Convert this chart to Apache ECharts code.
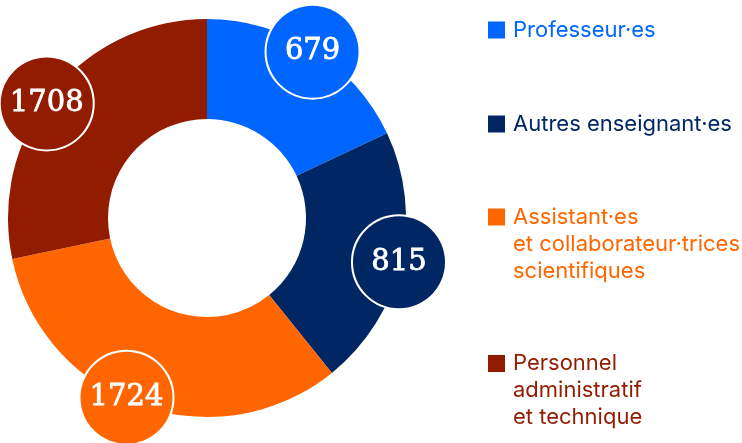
<!DOCTYPE html>
<html>
<head>
<meta charset="utf-8">
<script src="https://cdn.jsdelivr.net/npm/echarts@6/dist/echarts.min.js"></script>
<style>
html,body{margin:0;padding:0;background:#fff;}
#chart{width:742px;height:443px;}
</style>
</head>
<body>
<div id="chart"></div>
<script>
// ---- data ----
const categories = [
  'Professeur·es',
  'Autres enseignant·es',
  'Assistant·es\net collaborateur·trices\nscientifiques',
  'Personnel\nadministratif\net technique'
];
const headcounts = [679, 815, 1724, 1708];          // numbers shown in the bubbles
const sliceShares = [18.0, 21.2, 32.5, 28.3];       // share of the ring (%)
const colors = ['#0066FF', '#002663', '#FF6600', '#921C00'];

// ---- layout ----
const CX = 207, CY = 218, R0 = 99, R1 = 199;
const BUBBLE_R = 197;
const bubbleAngleNudge = [0, 0, 4.5, -3.5];         // degrees, small offsets from slice mid-angles
const LEGEND_X = 488, LINE_H = 27;
const legendCenters = [30, 124, 217, 363.5];

const chart = echarts.init(document.getElementById('chart'), null, {renderer: 'canvas'});

const total = sliceShares.reduce((a, b) => a + b, 0);
const midAngles = [];
let acc = 0;
sliceShares.forEach((s, i) => {
  midAngles.push((acc + s / 2) / total * 360 + bubbleAngleNudge[i]);
  acc += s;
});

const ringData = categories.map((c, i) => ({
  name: c, value: sliceShares[i], itemStyle: {color: colors[i]}
}));
const bubbleData = categories.map((c, i) => ({
  name: c, value: sliceShares[i],
  itemStyle: {color: 'rgba(0,0,0,0)'},
  label: {backgroundColor: colors[i]}
}));

const legends = categories.map((c, i) => {
  const n = c.split('\n').length;
  const lines = 2 * n - 1;
  return {
    orient: 'vertical',
    left: LEGEND_X,
    top: legendCenters[i] - lines * LINE_H / 2,
    padding: 0,
    itemWidth: 17,
    itemHeight: 17,
    icon: 'rect',
    selectedMode: false,
    data: [{name: c, itemStyle: {color: colors[i]}, textStyle: {color: colors[i]}}],
    formatter: name => '\n'.repeat(n - 1) + name,
    textStyle: {
      fontFamily: 'Inter', fontSize: 22, lineHeight: LINE_H,
      color: colors[i], padding: [0, 0, 0, 3]
    }
  };
});

chart.setOption({
  animation: false,
  legend: legends,
  series: [
    {
      type: 'pie',
      center: [CX, CY],
      radius: [R0, R1],
      startAngle: 90,
      clockwise: true,
      silent: true,
      label: {show: false},
      labelLine: {show: false},
      data: ringData
    },
    {
      type: 'pie',
      center: [CX, CY],
      radius: [BUBBLE_R, BUBBLE_R],
      startAngle: 90,
      clockwise: true,
      silent: true,
      labelLine: {show: false},
      label: {
        show: true,
        position: 'inside',
        formatter: p => String(headcounts[p.dataIndex]),
        fontFamily: 'DejaVu Serif',
        fontSize: 29,
        color: '#fff',
        textBorderColor: '#fff',
        textBorderWidth: 0.8,
        width: 92,
        height: 92,
        lineHeight: 92,
        align: 'center',
        verticalAlign: 'middle',
        borderRadius: 48,
        borderColor: '#fff',
        borderWidth: 2
      },
      labelLayout: p => {
        const a = midAngles[p.dataIndex] * Math.PI / 180;
        return {
          x: CX + BUBBLE_R * Math.sin(a),
          y: CY - BUBBLE_R * Math.cos(a),
          align: 'center',
          verticalAlign: 'middle'
        };
      },
      data: bubbleData
    }
  ]
});
</script>
</body>
</html>
